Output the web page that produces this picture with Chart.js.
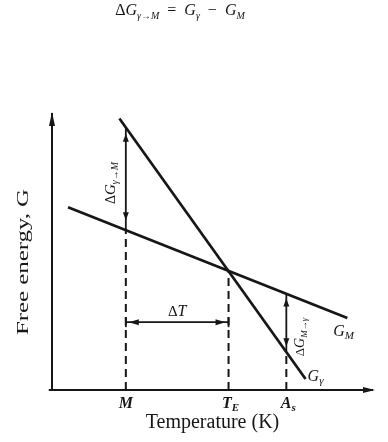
<!DOCTYPE html>
<html>
<head>
<meta charset="utf-8">
<script src="https://cdn.jsdelivr.net/npm/chart.js@4/dist/chart.umd.min.js"></script>
<style>
  html, body { margin: 0; padding: 0; background: #fff; }
  canvas { display: block; }
</style>
</head>
<body>
<canvas id="gibbs" width="388" height="442"></canvas>
<script>
// temperature marks on the x axis: M, T_E, A_s
const tempMarks = [23, 55, 73];
const tempMarkLabels = [["M", ""], ["T", "E"], ["A", "s"]];

// free energy lines (end points)
const gGamma = [{ x: 21, y: 98 }, { x: 79, y: 4 }];
const gMart = [{ x: 5, y: 66 }, { x: 92, y: 26 }];

// free energy at each mark: [G_M, G_gamma]
const gAtM = [58, 95];
const gAtTE = [43, 43];
const gAtAs = [34.5, 14];

// level of the delta T arrow
const deltaTLevel = 24.5;

const axisXRange = [-1, 100];
const axisYRange = [0, 100];

const INK = "#161616";
const SERIF = '"Liberation Serif", "DejaVu Serif", serif';

const line = (data, width, dash) => ({
  data: data,
  showLine: true,
  borderColor: INK,
  borderWidth: width,
  borderDash: dash || [],
  pointRadius: 0,
  fill: false,
  clip: false,
});

const datasets = [
  line([{ x: axisXRange[0], y: 0 }, { x: axisXRange[1], y: 0 }], 2),
  line([{ x: 0, y: axisYRange[0] }, { x: 0, y: axisYRange[1] }], 2),
  line(gGamma, 2.7),
  line(gMart, 2.7),
  line([{ x: tempMarks[0], y: 0 }, { x: tempMarks[0], y: gAtM[0] }], 2, [8, 5]),
  line([{ x: tempMarks[1], y: 0 }, { x: tempMarks[1], y: gAtTE[0] }], 2, [8, 5]),
  line([{ x: tempMarks[2], y: 0 }, { x: tempMarks[2], y: gAtAs[1] }], 2, [8, 5]),
  line([{ x: tempMarks[0], y: gAtM[0] }, { x: tempMarks[0], y: gAtM[1] }], 1.8),
  line([{ x: tempMarks[2], y: gAtAs[1] }, { x: tempMarks[2], y: gAtAs[0] }], 1.8),
  line([{ x: tempMarks[0], y: deltaTLevel }, { x: tempMarks[1], y: deltaTLevel }], 1.8),
];

function arrowHead(ctx, x, y, angle, len, half) {
  ctx.save();
  ctx.translate(x, y);
  ctx.rotate(angle);
  ctx.beginPath();
  ctx.moveTo(0, 0);
  ctx.lineTo(-len, -half);
  ctx.lineTo(-len, half);
  ctx.closePath();
  ctx.fill();
  ctx.restore();
}

// parts: [text, font, dy]
function richText(ctx, parts, x, y, align) {
  let w = 0;
  parts.forEach((p) => {
    ctx.font = p[1];
    w += ctx.measureText(p[0]).width;
  });
  let cx = align === "center" ? x - w / 2 : x;
  parts.forEach((p) => {
    ctx.font = p[1];
    ctx.fillText(p[0], cx, y + (p[2] || 0));
    cx += ctx.measureText(p[0]).width;
  });
  return w;
}

const annotations = {
  id: "annotations",
  afterDatasetsDraw(chart) {
    const ctx = chart.ctx;
    const xs = chart.scales.x;
    const ys = chart.scales.y;
    const px = (v) => xs.getPixelForValue(v);
    const py = (v) => ys.getPixelForValue(v);

    ctx.save();
    ctx.fillStyle = INK;
    ctx.strokeStyle = INK;
    ctx.textAlign = "left";
    ctx.textBaseline = "alphabetic";

    // axis arrows
    arrowHead(ctx, px(axisXRange[1]) + 2, py(0), 0, 12, 3);
    arrowHead(ctx, px(0), py(axisYRange[1]) - 1, -Math.PI / 2, 14, 3);

    // delta G arrows
    arrowHead(ctx, px(tempMarks[0]), py(gAtM[1]) + 7, -Math.PI / 2, 8, 3);
    arrowHead(ctx, px(tempMarks[0]), py(gAtM[0]) - 9, Math.PI / 2, 8, 3);
    arrowHead(ctx, px(tempMarks[2]), py(gAtAs[0]) + 4, -Math.PI / 2, 8, 3);
    arrowHead(ctx, px(tempMarks[2]), py(gAtAs[1]) - 5, Math.PI / 2, 8, 3);

    // delta T arrow with end bars
    const yT = py(deltaTLevel);
    arrowHead(ctx, px(tempMarks[0]) + 3, yT, Math.PI, 10, 3);
    arrowHead(ctx, px(tempMarks[1]) - 3, yT, 0, 10, 3);
    ctx.lineWidth = 1.8;
    [tempMarks[0], tempMarks[1]].forEach((t) => {
      ctx.beginPath();
      ctx.moveTo(px(t), yT - 5);
      ctx.lineTo(px(t), yT + 5);
      ctx.stroke();
    });

    // tick labels
    tempMarkLabels.forEach((lab, i) => {
      richText(ctx, [
        [lab[0], "italic bold 16px " + SERIF, 0],
        [lab[1], "italic bold 11px " + SERIF, 3],
      ], px(tempMarks[i]) + (lab[1] ? 2 : 0), py(0) + 18, "center");
    });

    // axis titles
    ctx.font = "20px " + SERIF;
    ctx.textAlign = "center";
    ctx.fillText("Temperature (K)", (chart.chartArea.left + chart.chartArea.right) / 2, py(0) + 38);
    ctx.save();
    ctx.translate(28, 262);
    ctx.rotate(-Math.PI / 2);
    ctx.font = "16px " + SERIF;
    const yw = ctx.measureText("Free energy, G").width;
    ctx.scale(146 / yw, 1);
    ctx.fillText("Free energy, G", 0, 0);
    ctx.restore();
    ctx.textAlign = "left";

    // curve labels
    richText(ctx, [
      ["G", "italic 16px " + SERIF, 0],
      ["M", "italic 11px " + SERIF, 3],
    ], px(gMart[1].x) - 14, py(gMart[1].y) + 18, "left");
    richText(ctx, [
      ["G", "italic 16px " + SERIF, 0],
      ["\u03b3", "italic 11px " + SERIF, 3],
    ], px(gGamma[1].x) + 2, py(gGamma[1].y) + 2, "left");

    // delta T label
    richText(ctx, [
      ["\u0394", "15px " + SERIF, 0],
      ["T", "italic 16px " + SERIF, 0],
    ], (px(tempMarks[0]) + px(tempMarks[1])) / 2, yT - 6, "center");

    // rotated delta G labels
    const vertLabel = (x, y, sub, size) => {
      ctx.save();
      ctx.translate(x, y);
      ctx.rotate(-Math.PI / 2);
      richText(ctx, [
        ["\u0394", (size - 1) + "px " + SERIF, 0],
        ["G", "italic " + size + "px " + SERIF, 0],
        [sub, "italic " + (size - 5) + "px " + SERIF, 3],
      ], 0, 0, "center");
      ctx.restore();
    };
    vertLabel(px(tempMarks[0]) - 11, 183, "\u03b3\u2192M", 15);
    vertLabel(px(tempMarks[2]) + 18, 337, "M\u2192\u03b3", 14);

    // formula heading
    const it = "italic 16px " + SERIF;
    const up = "16px " + SERIF;
    const sub = "italic 10px " + SERIF;
    richText(ctx, [
      ["\u0394", up, 0],
      ["G", it, 0],
      ["\u03b3\u2192M", sub, 4],
      ["  =  ", up, 0],
      ["G", it, 0],
      ["\u03b3", sub, 4],
      ["  \u2212  ", up, 0],
      ["G", it, 0],
      ["M", sub, 4],
    ], 180, 15, "center");

    ctx.restore();
  },
};

new Chart(document.getElementById("gibbs"), {
  type: "scatter",
  data: { datasets: datasets },
  options: {
    responsive: false,
    animation: false,
    events: [],
    layout: { padding: { left: 52, right: 15, top: 113, bottom: 52 } },
    plugins: { legend: { display: false }, tooltip: { enabled: false } },
    scales: {
      x: { type: "linear", min: 0, max: 100, display: false },
      y: { type: "linear", min: 0, max: 100, display: false },
    },
  },
  plugins: [annotations],
});
</script>
</body>
</html>
